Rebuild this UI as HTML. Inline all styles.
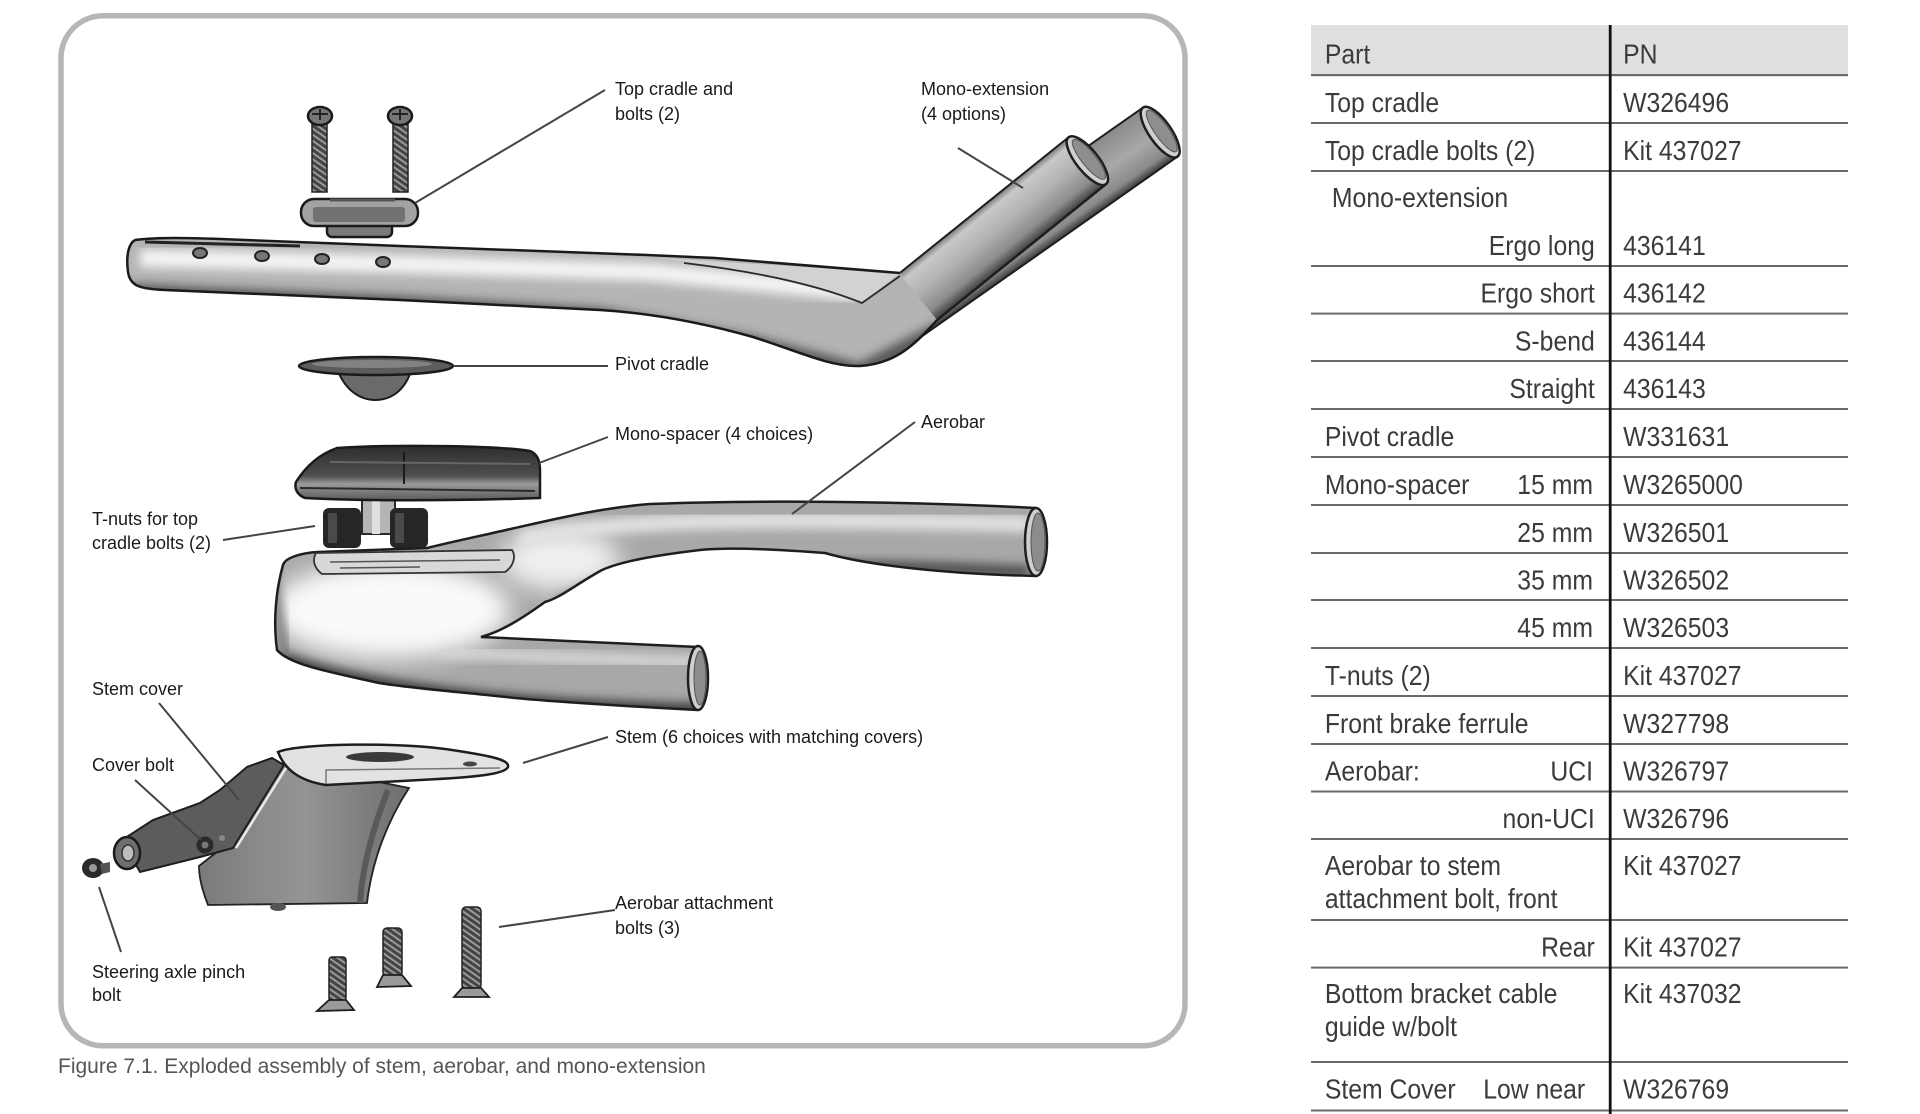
<!DOCTYPE html>
<html><head><meta charset="utf-8">
<style>
html,body{margin:0;padding:0;background:#fff;}
svg{display:block;}
</style></head><body>
<svg width="1920" height="1114" viewBox="0 0 1920 1114" xmlns="http://www.w3.org/2000/svg">
<defs>
 <filter id="b5" x="-30%" y="-30%" width="160%" height="160%"><feGaussianBlur stdDeviation="5"/></filter>
 <filter id="b10" x="-50%" y="-50%" width="200%" height="200%"><feGaussianBlur stdDeviation="12"/></filter>
 <linearGradient id="tube" gradientUnits="userSpaceOnUse" x1="0" y1="-30" x2="0" y2="30">
   <stop offset="0" stop-color="#7a7a7a"/><stop offset=".12" stop-color="#c8c8c8"/><stop offset=".45" stop-color="#b2b2b2"/><stop offset=".8" stop-color="#8c8c8c"/><stop offset="1" stop-color="#404040"/>
 </linearGradient>
 <linearGradient id="tube2" gradientUnits="userSpaceOnUse" x1="0" y1="-30" x2="0" y2="30">
   <stop offset="0" stop-color="#8a8a8a"/><stop offset=".5" stop-color="#a8a8a8"/><stop offset=".85" stop-color="#8a8a8a"/><stop offset="1" stop-color="#3a3a3a"/>
 </linearGradient>
 <linearGradient id="stemg" x1="0" y1="0" x2="1" y2="0">
   <stop offset="0" stop-color="#7a7a7a"/><stop offset=".5" stop-color="#959595"/><stop offset="1" stop-color="#6e6e6e"/>
 </linearGradient>
 <linearGradient id="spg" x1="0" y1="0" x2="0" y2="1">
   <stop offset="0" stop-color="#2e2e2e"/><stop offset=".55" stop-color="#4e4e4e"/><stop offset=".7" stop-color="#9a9a9a"/><stop offset="1" stop-color="#5a5a5a"/>
 </linearGradient>
 <pattern id="thr" width="5" height="5" patternUnits="userSpaceOnUse" patternTransform="rotate(35)">
   <rect width="5" height="5" fill="#444"/><rect width="5" height="2" fill="#9a9a9a"/>
 </pattern>
 <clipPath id="barClip"><path d="M135,240 C160,237 190,238 220,239 L400,246 L647,255 L715,258 L900,273 L938,319 C915,345 895,364 860,366 C830,367 800,352 753,337 C700,322 650,313 600,310 L400,300 L165,290 C140,289 130,286 128,272 C126,257 128,244 135,240 Z"/></clipPath>
 <clipPath id="aeroClip"><path d="M283,565 C285,558 300,553 318,552 L427,548 C460,540 480,536 506,530 C560,518 600,508 650,504 C750,500 900,501 1036,508 L1036,576 C950,574 870,566 825,553 C760,548 720,548 700,550 C650,556 620,562 602,570 C575,585 560,598 545,602 C520,620 500,632 481,637 L698,647 L698,710 C620,706 530,700 506,697 C460,692 410,688 379,683 C330,672 290,665 277,650 C273,620 276,590 283,565 Z"/></clipPath>
</defs>

<!-- Frame -->
<rect x="61" y="15.8" width="1124" height="1030" rx="42" ry="42" fill="#fff" stroke="#b6b6b6" stroke-width="5.5"/>

<!-- Rear tube -->
<g transform="translate(900,315) rotate(-35.1)">
  <path d="M0,-30 L318,-30 L318,30 L0,30 A30,30 0 0 1 0,-30 Z" fill="url(#tube2)" stroke="#1e1e1e" stroke-width="2"/>
  <ellipse cx="318" cy="0" rx="11" ry="30" fill="#cfcfcf" stroke="#1e1e1e" stroke-width="2.5"/>
  <ellipse cx="320" cy="0" rx="7" ry="25" fill="#8e8e8e" stroke="#555" stroke-width="1"/>
</g>

<!-- Mono-extension bar -->
<path d="M135,240 C160,237 190,238 220,239 L400,246 L647,255 L715,258 L900,273 L938,319 C915,345 895,364 860,366 C830,367 800,352 753,337 C700,322 650,313 600,310 L400,300 L165,290 C140,289 130,286 128,272 C126,257 128,244 135,240 Z" fill="#b4b4b4"/>
<g clip-path="url(#barClip)">
  <path d="M140,258 L400,264 L650,272 L860,292" stroke="#f4f4f4" stroke-width="18" fill="none" filter="url(#b5)"/>
  <path d="M130,292 L400,304 L600,316 L753,344 L860,372 L940,330" stroke="#3a3a3a" stroke-width="16" fill="none" filter="url(#b5)" opacity=".8"/>
  <path d="M660,258 L900,273 L862,303 C820,288 740,268 660,258 Z" fill="#d2d2d2"/>
</g>
<path d="M135,240 C160,237 190,238 220,239 L400,246 L647,255 L715,258 L900,273 M938,319 C915,345 895,364 860,366 C830,367 800,352 753,337 C700,322 650,313 600,310 L400,300 L165,290 C140,289 130,286 128,272 C126,257 128,244 135,240" fill="none" stroke="#1a1a1a" stroke-width="2.5"/>
<path d="M684,263 C760,272 820,286 862,303 L900,276" fill="none" stroke="#2a2a2a" stroke-width="1.8"/>
<path d="M145,242 L300,246" stroke="#222" stroke-width="3"/>
<ellipse cx="200" cy="253" rx="7" ry="5" fill="#777" stroke="#222" stroke-width="2"/>
<ellipse cx="262" cy="256" rx="7" ry="5" fill="#777" stroke="#222" stroke-width="2"/>
<ellipse cx="322" cy="259" rx="7" ry="5" fill="#777" stroke="#222" stroke-width="2"/>
<ellipse cx="383" cy="262" rx="7" ry="5" fill="#777" stroke="#222" stroke-width="2"/>

<!-- Front tube -->
<g transform="translate(919,296) rotate(-38.8)">
  <rect x="-1" y="-30" width="217" height="60" fill="url(#tube)"/>
  <line x1="0" y1="-30" x2="216" y2="-30" stroke="#1e1e1e" stroke-width="2"/>
  <line x1="0" y1="30" x2="216" y2="30" stroke="#1e1e1e" stroke-width="2.5"/>
  <ellipse cx="216" cy="0" rx="11" ry="30" fill="#d0d0d0" stroke="#1e1e1e" stroke-width="2.5"/>
  <ellipse cx="218" cy="0" rx="7" ry="25" fill="#8e8e8e" stroke="#555" stroke-width="1"/>
</g>

<!-- Top bolts -->
<rect x="312" y="122" width="15" height="70" fill="url(#thr)" stroke="#222" stroke-width="1.5"/>
<ellipse cx="320" cy="116" rx="12" ry="9" fill="#777" stroke="#1a1a1a" stroke-width="2.5"/>
<path d="M312,114 L328,114 M320,109 L320,120" stroke="#222" stroke-width="2"/>
<rect x="393" y="122" width="15" height="70" fill="url(#thr)" stroke="#222" stroke-width="1.5"/>
<ellipse cx="400" cy="116" rx="12" ry="9" fill="#777" stroke="#1a1a1a" stroke-width="2.5"/>
<path d="M392,114 L408,114 M400,109 L400,120" stroke="#222" stroke-width="2"/>

<!-- Top cradle -->
<rect x="327" y="219" width="65" height="18" rx="5" fill="#7a7a7a" stroke="#1a1a1a" stroke-width="2.5"/>
<rect x="301" y="199" width="117" height="27" rx="13" fill="#a2a2a2" stroke="#1a1a1a" stroke-width="2.5"/>
<rect x="313" y="207" width="92" height="15" rx="3" fill="#727272"/>
<path d="M330,200 L395,200" stroke="#555" stroke-width="3"/>

<!-- Pivot cradle -->
<path d="M337,368 C345,392 362,400 375,400 C390,400 405,392 412,368 Z" fill="#6a6a6a" stroke="#1a1a1a" stroke-width="2"/>
<ellipse cx="376" cy="366" rx="77" ry="9" fill="#5c5c5c" stroke="#1a1a1a" stroke-width="2.5"/>
<ellipse cx="372" cy="364" rx="60" ry="4" fill="#828282"/>

<!-- Spacer -->
<rect x="362" y="500" width="33" height="34" fill="#b5b5b5" stroke="#2a2a2a" stroke-width="2"/>
<rect x="372" y="500" width="8" height="34" fill="#e0e0e0"/>
<path d="M337,448 C400,444 500,446 530,451 C538,454 540,462 540,470 L540,498 C450,501 360,501 305,498 C297,495 294,488 296,482 C306,466 320,454 337,448 Z" fill="url(#spg)" stroke="#1a1a1a" stroke-width="2.5"/>
<path d="M404,452 L404,484" stroke="#1a1a1a" stroke-width="2"/>
<path d="M330,462 L530,464" stroke="#666" stroke-width="2"/>
<path d="M300,488 L535,491" stroke="#2a2a2a" stroke-width="2"/>

<!-- T-nuts -->
<rect x="323" y="508" width="38" height="40" rx="6" fill="#262626"/>
<rect x="328" y="513" width="9" height="30" fill="#4a4a4a"/>
<rect x="390" y="508" width="38" height="40" rx="6" fill="#262626"/>
<rect x="395" y="513" width="9" height="30" fill="#4a4a4a"/>

<!-- Aerobar -->
<path d="M283,565 C285,558 300,553 318,552 L427,548 C460,540 480,536 506,530 C560,518 600,508 650,504 C750,500 900,501 1036,508 L1036,576 C950,574 870,566 825,553 C760,548 720,548 700,550 C650,556 620,562 602,570 C575,585 560,598 545,602 C520,620 500,632 481,637 L698,647 L698,710 C620,706 530,700 506,697 C460,692 410,688 379,683 C330,672 290,665 277,650 C273,620 276,590 283,565 Z" fill="#a8a8a8"/>
<g clip-path="url(#aeroClip)">
  <ellipse cx="390" cy="610" rx="120" ry="48" fill="#fafafa" filter="url(#b10)"/>
  <ellipse cx="560" cy="560" rx="60" ry="30" fill="#f0f0f0" filter="url(#b10)"/>
  <path d="M520,540 C600,522 700,516 1030,524" stroke="#e2e2e2" stroke-width="16" fill="none" filter="url(#b5)"/>
  <path d="M560,606 C620,568 700,558 1030,572" stroke="#4a4a4a" stroke-width="12" fill="none" filter="url(#b5)"/>
  <path d="M280,660 C350,688 500,708 700,712" stroke="#3e3e3e" stroke-width="18" fill="none" filter="url(#b5)"/>
  <path d="M440,652 C520,655 600,660 698,662" stroke="#d6d6d6" stroke-width="12" fill="none" filter="url(#b5)"/>
  <path d="M270,560 L285,660" stroke="#777" stroke-width="10" fill="none" filter="url(#b5)"/>
</g>
<path d="M283,565 C285,558 300,553 318,552 L427,548 C460,540 480,536 506,530 C560,518 600,508 650,504 C750,500 900,501 1036,508 M1036,576 C950,574 870,566 825,553 C760,548 720,548 700,550 C650,556 620,562 602,570 C575,585 560,598 545,602 C520,620 500,632 481,637 L698,647 M698,710 C620,706 530,700 506,697 C460,692 410,688 379,683 C330,672 290,665 277,650 C273,620 276,590 283,565" fill="none" stroke="#1e1e1e" stroke-width="2.5"/>
<ellipse cx="1036" cy="542" rx="11" ry="34" fill="#cfcfcf" stroke="#1e1e1e" stroke-width="2.5"/>
<ellipse cx="1038" cy="542" rx="7" ry="29" fill="#8c8c8c" stroke="#555" stroke-width="1"/>
<ellipse cx="698" cy="678" rx="10" ry="32" fill="#cfcfcf" stroke="#1e1e1e" stroke-width="2.5"/>
<ellipse cx="700" cy="678" rx="6" ry="27" fill="#8c8c8c" stroke="#555" stroke-width="1"/>
<!-- aerobar top plate -->
<path d="M316,553 L512,550 C516,556 514,566 505,572 L322,574 C314,568 312,560 316,553 Z" fill="#d8d8d8" stroke="#333" stroke-width="1.8"/>
<path d="M330,562 L500,560 M340,568 L420,567" stroke="#555" stroke-width="1.5"/>

<!-- Stem body -->
<path d="M283,763 L409,788 C388,820 372,860 367,903 L208,905 C202,890 199,876 199,866 L240,834 Z" fill="url(#stemg)" stroke="#222" stroke-width="1.8"/>
<path d="M388,790 C372,830 362,870 360,903" stroke="#5a5a5a" stroke-width="6" fill="none"/>
<!-- Stem top plate -->
<path d="M278,752 C300,743 400,742 452,750 C492,756 510,760 508,767 C505,774 480,777 420,780 L326,785 C300,781 285,770 278,752 Z" fill="#e2e2e2" stroke="#1e1e1e" stroke-width="2.5"/>
<ellipse cx="380" cy="757" rx="34" ry="5" fill="#3a3a3a"/>
<ellipse cx="470" cy="764" rx="7" ry="2.5" fill="#444"/>
<path d="M326,784 L326,770 L500,768" stroke="#777" stroke-width="1.5" fill="none"/>
<!-- Stem cover -->
<path d="M272,758 L284,765 L233,848 L200,857 L140,872 L122,840 L153,820 L200,803 L220,790 L247,767 Z" fill="#5c5c5c" stroke="#1e1e1e" stroke-width="2"/>
<path d="M286,768 L236,848" stroke="#e8e8e8" stroke-width="2.5"/>
<ellipse cx="127" cy="853" rx="13" ry="16" fill="#6e6e6e" stroke="#1a1a1a" stroke-width="2.5"/>
<ellipse cx="128" cy="853" rx="6" ry="8" fill="#bdbdbd" stroke="#333" stroke-width="1.5"/>
<circle cx="205" cy="845" r="8.5" fill="#2a2a2a"/>
<circle cx="205" cy="845" r="3.5" fill="#777"/>
<circle cx="222" cy="838" r="3" fill="#888"/>
<ellipse cx="93" cy="868" rx="11" ry="10" fill="#2a2a2a"/>
<ellipse cx="93" cy="868" rx="4" ry="4" fill="#999"/>
<path d="M100,864 L110,862 L110,872 L102,874 Z" fill="#555"/>
<ellipse cx="278" cy="907" rx="8" ry="4" fill="#555"/>

<!-- Bottom bolts -->
<rect x="329" y="957" width="17" height="44" rx="3" fill="url(#thr)" stroke="#222" stroke-width="1.5"/>
<path d="M329,1000 L346,1000 L354,1010 L317,1011 Z" fill="#9a9a9a" stroke="#1e1e1e" stroke-width="1.8"/>
<rect x="383" y="928" width="19" height="48" rx="4" fill="url(#thr)" stroke="#222" stroke-width="1.5"/>
<path d="M383,975 L402,975 L411,986 L377,987 Z" fill="#9a9a9a" stroke="#1e1e1e" stroke-width="1.8"/>
<rect x="462" y="907" width="19" height="82" rx="4" fill="url(#thr)" stroke="#222" stroke-width="1.5"/>
<path d="M462,988 L481,988 L489,997 L454,997 Z" fill="#9a9a9a" stroke="#1e1e1e" stroke-width="1.8"/>

<!-- Leaders -->
<g stroke="#444" stroke-width="2" fill="none">
  <line x1="605" y1="90" x2="415" y2="203"/>
  <line x1="958" y1="148" x2="1023" y2="188"/>
  <line x1="453" y1="366" x2="608" y2="366"/>
  <line x1="608" y1="437" x2="539" y2="463"/>
  <line x1="915" y1="422" x2="792" y2="514"/>
  <line x1="223" y1="540" x2="315" y2="526"/>
  <line x1="159" y1="703" x2="239" y2="800"/>
  <line x1="135" y1="780" x2="201" y2="840"/>
  <line x1="608" y1="737" x2="523" y2="763"/>
  <line x1="615" y1="910" x2="499" y2="927"/>
  <line x1="99" y1="887" x2="121" y2="952"/>
</g>

<!-- Labels -->
<g font-family="'Liberation Sans', Arial, sans-serif" font-size="18" fill="#1a1a1a">
  <text x="615" y="95">Top cradle and</text>
  <text x="615" y="120">bolts (2)</text>
  <text x="921" y="95">Mono-extension</text>
  <text x="921" y="120">(4 options)</text>
  <text x="615" y="370">Pivot cradle</text>
  <text x="615" y="440">Mono-spacer (4 choices)</text>
  <text x="921" y="428">Aerobar</text>
  <text x="92" y="525">T-nuts for top</text>
  <text x="92" y="549">cradle bolts (2)</text>
  <text x="92" y="695">Stem cover</text>
  <text x="92" y="771">Cover bolt</text>
  <text x="615" y="743">Stem (6 choices with matching covers)</text>
  <text x="615" y="909">Aerobar attachment</text>
  <text x="615" y="934">bolts (3)</text>
  <text x="92" y="978">Steering axle pinch</text>
  <text x="92" y="1001">bolt</text>
</g>

<!-- Caption -->
<text x="58" y="1073" font-family="'Liberation Sans', Arial, sans-serif" font-size="21" fill="#555">Figure 7.1. Exploded assembly of stem, aerobar, and mono-extension</text>

<!-- Table -->
<rect x="1311" y="25" width="537" height="50" fill="#e0e0e0"/>
<g fill="#6a6a6a">
  <rect x="1311" y="74" width="537" height="2.2"/>
  <rect x="1311" y="122" width="537" height="2"/>
  <rect x="1311" y="170" width="537" height="2"/>
  <rect x="1311" y="265" width="537" height="2"/>
  <rect x="1311" y="312.6" width="537" height="2"/>
  <rect x="1311" y="360" width="537" height="2"/>
  <rect x="1311" y="408" width="537" height="2"/>
  <rect x="1311" y="456" width="537" height="2"/>
  <rect x="1311" y="504" width="537" height="2"/>
  <rect x="1311" y="552" width="537" height="2"/>
  <rect x="1311" y="599" width="537" height="2"/>
  <rect x="1311" y="647" width="537" height="2"/>
  <rect x="1311" y="695" width="537" height="2"/>
  <rect x="1311" y="743" width="537" height="2"/>
  <rect x="1311" y="790.5" width="537" height="2"/>
  <rect x="1311" y="838" width="537" height="2"/>
  <rect x="1311" y="919" width="537" height="2"/>
  <rect x="1311" y="966.6" width="537" height="2"/>
  <rect x="1311" y="1061" width="537" height="2"/>
  <rect x="1311" y="1109.5" width="537" height="2"/>
</g>
<rect x="1608.8" y="25" width="2.8" height="1089" fill="#111"/>

<g font-family="'Liberation Sans', Arial, sans-serif" font-size="28" fill="#3b3b3b" transform="scale(0.885,1)">
  <text x="1497" y="63.5">Part</text>
  <text x="1834" y="63.5">PN</text>

  <text x="1497" y="112">Top cradle</text>
  <text x="1834" y="112">W326496</text>

  <text x="1497" y="160">Top cradle bolts (2)</text>
  <text x="1834" y="160">Kit 437027</text>

  <text x="1505" y="207">Mono-extension</text>

  <text x="1802" y="255" text-anchor="end">Ergo long</text>
  <text x="1834" y="255">436141</text>

  <text x="1802" y="302.5" text-anchor="end">Ergo short</text>
  <text x="1834" y="302.5">436142</text>

  <text x="1802" y="350.5" text-anchor="end">S-bend</text>
  <text x="1834" y="350.5">436144</text>

  <text x="1802" y="398" text-anchor="end">Straight</text>
  <text x="1834" y="398">436143</text>

  <text x="1497" y="446">Pivot cradle</text>
  <text x="1834" y="446">W331631</text>

  <text x="1497" y="494">Mono-spacer</text>
  <text x="1800" y="494" text-anchor="end">15 mm</text>
  <text x="1834" y="494">W3265000</text>

  <text x="1800" y="542" text-anchor="end">25 mm</text>
  <text x="1834" y="542">W326501</text>

  <text x="1800" y="589.5" text-anchor="end">35 mm</text>
  <text x="1834" y="589.5">W326502</text>

  <text x="1800" y="637" text-anchor="end">45 mm</text>
  <text x="1834" y="637">W326503</text>

  <text x="1497" y="685">T-nuts (2)</text>
  <text x="1834" y="685">Kit 437027</text>

  <text x="1497" y="733">Front brake ferrule</text>
  <text x="1834" y="733">W327798</text>

  <text x="1497" y="780.5">Aerobar:</text>
  <text x="1800" y="780.5" text-anchor="end">UCI</text>
  <text x="1834" y="780.5">W326797</text>

  <text x="1802" y="828" text-anchor="end">non-UCI</text>
  <text x="1834" y="828">W326796</text>

  <text x="1497" y="875">Aerobar to stem</text>
  <text x="1497" y="908">attachment bolt, front</text>
  <text x="1834" y="875">Kit 437027</text>

  <text x="1802" y="956.5" text-anchor="end">Rear</text>
  <text x="1834" y="956.5">Kit 437027</text>

  <text x="1497" y="1003">Bottom bracket cable</text>
  <text x="1497" y="1036">guide w/bolt</text>
  <text x="1834" y="1003">Kit 437032</text>

  <text x="1497" y="1098.5">Stem Cover</text>
  <text x="1676" y="1098.5">Low near</text>
  <text x="1834" y="1098.5">W326769</text>
</g>
</svg>
</body></html>
